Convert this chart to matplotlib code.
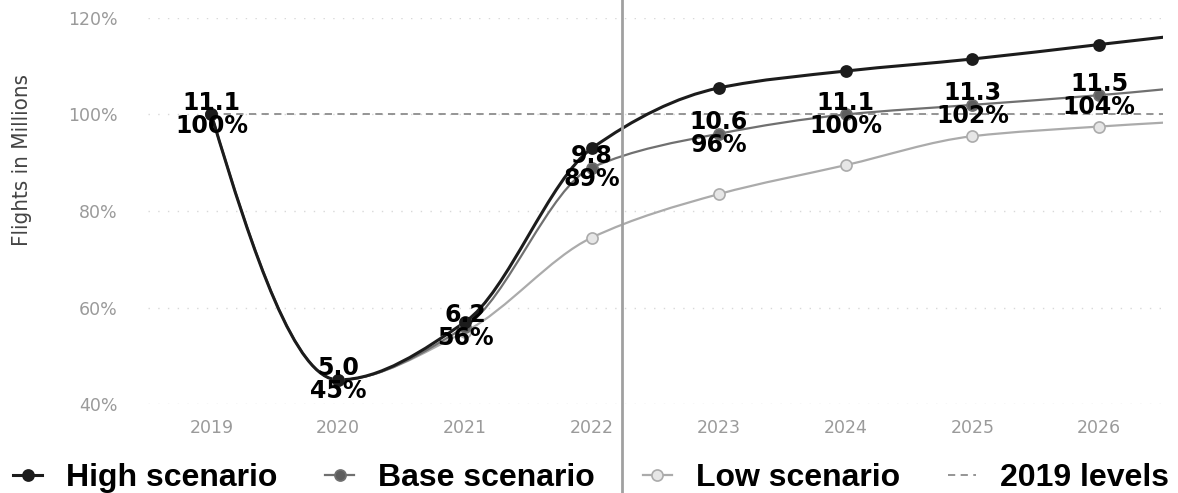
import matplotlib.pyplot as plt
from matplotlib.path import Path
from matplotlib.patches import PathPatch
from matplotlib.lines import Line2D
import numpy as np

# scenario data, share of 2019 flights (%)
years = [2019, 2020, 2021, 2022, 2023, 2024, 2025, 2026, 2027]
high_pct = [100, 45, 57, 93, 105.5, 109, 111.5, 114.5, 117.5]
base_pct = [100, 45, 56, 89, 96, 100, 102, 104, 106.5]
low_pct = [100, 45, 55, 74.5, 83.5, 89.5, 95.5, 97.5, 99]
level_pct = [100] * len(years)

# labels for the base scenario (flights in millions)
label_years = [2019, 2020, 2021, 2022, 2023, 2024, 2025, 2026]
base_millions = [11.1, 5.0, 6.2, 9.8, 10.6, 11.1, 11.3, 11.5]
base_label_pct = [100, 45, 56, 89, 96, 100, 102, 104]

yticks = [40, 60, 80, 100, 120]
xticks = [2019, 2020, 2021, 2022, 2023, 2024, 2025, 2026]

C_HIGH = '#1c1c1c'
C_BASE = '#707070'
C_LOW = '#ababab'
C_LEVEL = '#8c8c8c'

fig = plt.figure(figsize=(11.78, 4.93), dpi=100)
ax = fig.add_axes([0.1256, 0.1805, 0.8614, 0.783])
ax.set_xlim(2018.5, 2026.5)
ax.set_ylim(40, 120)


def smooth_path(xs, ys):
    # monotone cubic (Fritsch-Carlson tangents) written as bezier segments
    x = np.asarray(xs, float)
    y = np.asarray(ys, float)
    n = len(x)
    h = np.diff(x)
    d = np.diff(y) / h
    m = np.zeros(n)
    for i in range(1, n - 1):
        if d[i - 1] * d[i] > 0:
            w1 = 2 * h[i] + h[i - 1]
            w2 = h[i] + 2 * h[i - 1]
            m[i] = (w1 + w2) / (w1 / d[i - 1] + w2 / d[i])
    for i, j, k in ((0, 0, 1), (n - 1, n - 2, n - 3)):
        hj, hk = h[j], h[k]
        t = ((2 * hj + hk) * d[j] - hj * d[k]) / (hj + hk)
        if np.sign(t) != np.sign(d[j]):
            t = 0
        elif np.sign(d[j]) != np.sign(d[k]) and abs(t) > abs(3 * d[j]):
            t = 3 * d[j]
        m[i] = t
    verts = [(x[0], y[0])]
    codes = [Path.MOVETO]
    for i in range(n - 1):
        verts += [(x[i] + h[i] / 3, y[i] + m[i] * h[i] / 3),
                  (x[i + 1] - h[i] / 3, y[i + 1] - m[i + 1] * h[i] / 3),
                  (x[i + 1], y[i + 1])]
        codes += [Path.CURVE4] * 3
    return Path(verts, codes)


series = [
    (high_pct, C_HIGH, C_HIGH, 2.2, 'High scenario'),
    (base_pct, C_BASE, '#5e5e5e', 1.6, 'Base scenario'),
    (low_pct, C_LOW, '#e6e6e6', 1.6, 'Low scenario'),
]
handles = []
for vals, col, face, lw, name in series[::-1]:
    ax.add_patch(PathPatch(smooth_path(years, vals), facecolor='none',
                           edgecolor=col, lw=lw, zorder=3))
    ax.plot(years, vals, ls='none', marker='o', ms=8, mfc=face, mec=col,
            mew=1.2, zorder=4)
for vals, col, face, lw, name in series:
    handles.append(Line2D([], [], color=col, lw=lw, marker='o', ms=8,
                          mfc=face, mec=col, mew=1.2, label=name))

ax.plot(years, level_pct, color=C_LEVEL, lw=1.3, ls=(0, (4, 3)), zorder=2)
handles.append(Line2D([], [], color=C_LEVEL, lw=1.3, ls=(0, (4, 3)),
                      label='2019 levels'))

for yr, mil, pct in zip(label_years, base_millions, base_label_pct):
    ax.text(yr, pct, f'{mil:.1f}\n{pct}%', ha='center', va='center',
            fontsize=17, fontweight='bold', color='black', linespacing=0.95,
            zorder=6)

ax.set_yticks(yticks)
ax.set_yticklabels([f'{v}%' for v in yticks])
ax.set_xticks(xticks)
ax.set_xticklabels([str(v) for v in xticks])
ax.tick_params(length=0, labelsize=12.5, colors='#9a9a9a', pad=11)
ax.tick_params(axis='y', pad=22)
ax.grid(axis='y', color='#d8d8d8', ls=(0, (1, 6)), lw=1)
for sp in ax.spines.values():
    sp.set_visible(False)

fig.text(0.019, 0.675, 'Flights in Millions', rotation=90, ha='center',
         va='center', fontsize=16, color='#444444', fontstretch='condensed')

# thin separator running through the figure
fig.add_artist(Line2D([0.528, 0.528], [0, 1], transform=fig.transFigure,
                      color='#a0a0a0', lw=2, zorder=10))

fig.legend(handles=handles, loc='lower left', bbox_to_anchor=(-0.013, -0.058),
           ncol=4, frameon=False, handlelength=0.9, handletextpad=0.75,
           columnspacing=1.5, prop={'family': 'Liberation Sans',
                                    'weight': 'bold', 'size': 23})

fig.savefig('out.png', dpi=100)
